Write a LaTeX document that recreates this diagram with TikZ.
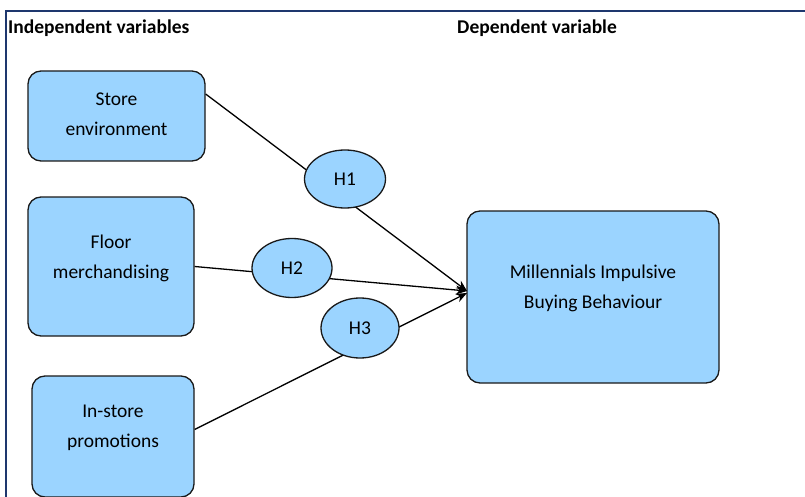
\documentclass[tikz,border=0pt]{standalone}
\usepackage{fontspec}
\setmainfont{Carlito}
\usetikzlibrary{arrows.meta,shapes.geometric}
\definecolor{boxfill}{RGB}{155,212,255}
\definecolor{framecol}{RGB}{30,55,110}
\definecolor{edgecol}{RGB}{25,25,25}
\tikzset{
  varbox/.style={draw=edgecol, line width=1.3pt, fill=boxfill, rounded corners=13pt, align=center, font=\fontsize{19.5}{30}\selectfont, inner sep=0pt},
  hypo/.style={draw=edgecol, line width=1.3pt, fill=boxfill, ellipse, inner sep=0pt, font=\fontsize{19.5}{22}\selectfont},
  link/.style={draw=black, line width=1.3pt},
  arrowlink/.style={link, -{Stealth[length=11pt,width=9pt]}},
  header/.style={font=\bfseries\fontsize{19.5}{22}\selectfont, inner sep=0pt}
}
\begin{document}
\begin{tikzpicture}[x=1pt,y=-1pt]
\useasboundingbox (0,0) rectangle (805,497);
\draw[framecol, line width=2.4pt] (6,497) -- (6,11) -- (805,11);
\node[header, anchor=west] (hind) at (8,28) {Independent variables};
\node[header] (hdep) at (537,28) {Dependent variable};

\node[varbox, minimum width=177pt, minimum height=90pt, text depth=4pt] (se) at (116.5,116) {Store\\environment};
\node[varbox, minimum width=166pt, minimum height=139pt, text depth=19pt] (fm) at (111,266.5) {Floor\\merchandising};
\node[varbox, minimum width=162pt, minimum height=121pt, text depth=21pt] (ip) at (113,436.5) {In-store\\promotions};
\node[varbox, minimum width=252pt, minimum height=172pt, text depth=21pt] (mb) at (593,297) {Millennials Impulsive\\Buying Behaviour};

\coordinate (t1) at (467,291);
\coordinate (t3) at (467,293);
\draw[arrowlink] ([yshift=22pt]se.east) -- (t1);
\draw[arrowlink] (fm.east) -- (t1);
\draw[arrowlink] ([yshift=7pt]ip.east) -- (t3);

\node[hypo, minimum width=81pt, minimum height=58pt] (h1) at (345,179) {H1};
\node[hypo, minimum width=80pt, minimum height=59pt] (h2) at (292,268) {H2};
\node[hypo, minimum width=78pt, minimum height=60pt] (h3) at (360,328) {H3};
\end{tikzpicture}
\end{document}
